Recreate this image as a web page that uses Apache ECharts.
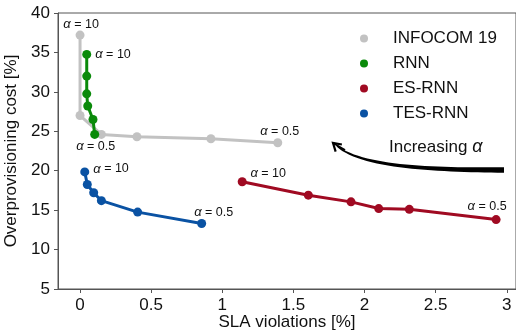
<!DOCTYPE html>
<html>
<head>
<meta charset="utf-8">
<script src="https://cdn.jsdelivr.net/npm/echarts@6/dist/echarts.min.js"></script>
<style>
  html, body { margin: 0; padding: 0; background: #fff; }
  #chart { width: 516px; height: 336px; }
</style>
</head>
<body>
<div id="chart"></div>
<script>
const FONT = "Liberation Sans, Arial, sans-serif";

// SLA violations [%], overprovisioning cost [%]; first point alpha = 10, last alpha = 0.5
const seriesNames = ["INFOCOM 19", "RNN", "ES-RNN", "TES-RNN"];
const infocomData = [[0, 37.2], [0, 27.0], [0.15, 24.6], [0.40, 24.3], [0.92, 24.05], [1.39, 23.55]];
const rnnData = [[0.047, 34.75], [0.047, 32.0], [0.047, 29.75], [0.054, 28.2], [0.091, 26.5], [0.103, 24.6]];
const esrnnData = [[1.14, 18.6], [1.605, 16.9], [1.905, 16.05], [2.10, 15.2], [2.315, 15.1], [2.925, 13.8]];
const tesrnnData = [[0.033, 19.85], [0.051, 18.25], [0.096, 17.2], [0.15, 16.2], [0.405, 14.75], [0.855, 13.3]];
const xTicks = [0, 0.5, 1, 1.5, 2, 2.5, 3];
const alphaFirst = "10";
const alphaLast = "0.5";

const colors = ["#c2c2c2", "#0a8a0a", "#a00a22", "#0a52a3"];

// label placement for the alpha = 10 / alpha = 0.5 annotations
const labelPlace = [
  [{ position: "top", distance: 0, offset: [1, 0] }, { position: "top", distance: 0, offset: [2, 0] }],
  [{ position: "right", distance: 4, offset: [0, 0] }, { position: "bottom", distance: 1, offset: [1, 0] }],
  [{ position: "top", distance: 0, offset: [26, 3] }, { position: "top", distance: 0, offset: [-9, -2] }],
  [{ position: "right", distance: 4, offset: [0, -3] }, { position: "top", distance: 0, offset: [12, 0] }],
];

function alphaLabel(text, place) {
  return Object.assign({
    show: true,
    formatter: "{a|α} = " + text,
    color: "#111",
    fontSize: 12.5,
    fontFamily: FONT,
    rich: { a: { fontStyle: "italic", fontSize: 13, fontFamily: FONT, color: "#111" } },
  }, place);
}

function buildData(points, i) {
  return points.map((p, k) => {
    if (k === 0) return { value: p, label: alphaLabel(alphaFirst, labelPlace[i][0]) };
    if (k === points.length - 1) return { value: p, label: alphaLabel(alphaLast, labelPlace[i][1]) };
    return { value: p };
  });
}

// tapered curved arrow "Increasing alpha"
function arrowShape() {
  const P = [[504, 170], [440, 170], [362, 168], [337, 146]];
  const n = 30;
  const top = [], bot = [];
  for (let k = 0; k <= n; k++) {
    const t = k / n, u = 1 - t;
    const x = u * u * u * P[0][0] + 3 * u * u * t * P[1][0] + 3 * u * t * t * P[2][0] + t * t * t * P[3][0];
    const y = u * u * u * P[0][1] + 3 * u * u * t * P[1][1] + 3 * u * t * t * P[2][1] + t * t * t * P[3][1];
    const dx = -3 * u * u * P[0][0] + 3 * (u * u - 2 * u * t) * P[1][0] + 3 * (2 * u * t - t * t) * P[2][0] + 3 * t * t * P[3][0];
    const dy = -3 * u * u * P[0][1] + 3 * (u * u - 2 * u * t) * P[1][1] + 3 * (2 * u * t - t * t) * P[2][1] + 3 * t * t * P[3][1];
    const len = Math.hypot(dx, dy);
    const nx = -dy / len, ny = dx / len;
    const w = (5.5 - 4 * t) / 2;
    top.push([x + nx * w, y + ny * w]);
    bot.push([x - nx * w, y - ny * w]);
  }
  const body = top.concat(bot.reverse());
  const tip = [333, 143];
  const ang = Math.atan2(146 - 168, 337 - 362);
  const arm = 9;
  const a1 = [tip[0] - arm * Math.cos(ang - 0.55), tip[1] - arm * Math.sin(ang - 0.55)];
  const a2 = [tip[0] - arm * Math.cos(ang + 0.55), tip[1] - arm * Math.sin(ang + 0.55)];
  return [
    { type: "polygon", shape: { points: body }, style: { fill: "#000" }, z: 10 },
    { type: "polyline", shape: { points: [a1, tip, a2] }, style: { stroke: "#000", lineWidth: 2.2, fill: null }, z: 10 },
    { type: "line", shape: { x1: 345, y1: 150, x2: tip[0], y2: tip[1] }, style: { stroke: "#000", lineWidth: 2 }, z: 10 },
    {
      type: "text", left: 389, top: 138, z: 10,
      style: { text: "Increasing {a|α}", fontSize: 17, fontFamily: FONT, fill: "#111",
        rich: { a: { fontStyle: "italic", fontSize: 18, fontFamily: FONT } } },
    },
  ];
}

const allData = [infocomData, rnnData, esrnnData, tesrnnData];

const chart = echarts.init(document.getElementById("chart"));
chart.setOption({
  animation: false,
  color: colors,
  textStyle: { fontFamily: FONT },
  grid: {
    left: 58, right: 0, top: 13, bottom: 47,
    containLabel: false, outerBoundsMode: "none",
    show: true, borderColor: "#555", borderWidth: 1,
  },
  legend: {
    orient: "vertical",
    left: 355,
    top: 25,
    icon: "circle",
    itemWidth: 8,
    itemHeight: 8,
    itemGap: 8,
    data: seriesNames,
    textStyle: { fontSize: 17, color: "#111", fontFamily: FONT, padding: [0, 0, 0, 20], lineHeight: 17 },
  },
  xAxis: {
    type: "value",
    min: -0.155,
    max: 3.065,
    name: "SLA violations [%]",
    nameLocation: "middle",
    nameGap: 25,
    nameMoveOverlap: false,
    nameTextStyle: { fontSize: 17, color: "#111", fontFamily: FONT },
    axisLine: { show: true, onZero: false, lineStyle: { color: "#555" } },
    axisTick: { show: true, length: 4, customValues: xTicks, lineStyle: { color: "#555" } },
    axisLabel: { customValues: xTicks, fontSize: 17, color: "#111", margin: 8, fontFamily: FONT },
    splitLine: { show: false },
  },
  yAxis: {
    type: "value",
    min: 5,
    max: 40,
    interval: 5,
    name: "Overprovisioning cost [%]",
    nameLocation: "middle",
    nameGap: 34,
    nameTextStyle: { fontSize: 17, color: "#111", fontFamily: FONT },
    axisLine: { show: true, onZero: false, lineStyle: { color: "#555" } },
    axisTick: { show: true, length: 4, lineStyle: { color: "#555" } },
    axisLabel: { fontSize: 17, color: "#111", margin: 8, fontFamily: FONT },
    splitLine: { show: false },
  },
  graphic: arrowShape(),
  series: allData.map((d, i) => ({
    name: seriesNames[i],
    type: "line",
    data: buildData(d, i),
    symbol: "circle",
    symbolSize: 9,
    lineStyle: { width: 3, color: colors[i] },
    itemStyle: { color: colors[i] },
    z: 2 + i,
  })),
});
</script>
</body>
</html>
